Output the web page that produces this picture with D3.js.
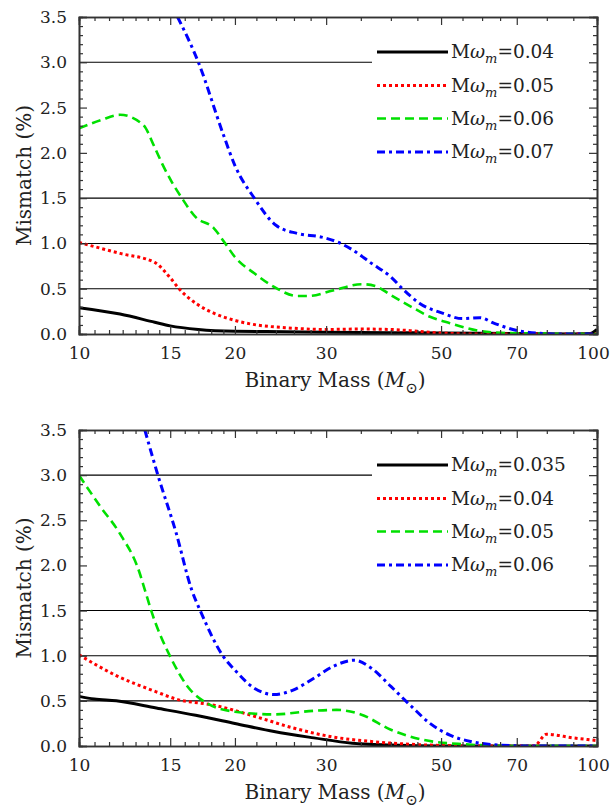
<!DOCTYPE html>
<html><head><meta charset="utf-8">
<script src="https://cdn.jsdelivr.net/npm/d3@7"></script>
<style>body{margin:0;background:#fff}svg{display:block}
.f{font-family:'DejaVu Serif', serif}
</style>
</head><body>
<script>
// ---------- DATA ----------
const xTickValues = [10, 15, 20, 30, 50, 70, 100];
const xMinorTicks = [10.714, 11.429, 12.143, 12.857, 13.571, 14.286, 16, 17, 18, 19, 22, 24, 26, 28, 35, 40, 45, 55, 60, 65, 80, 90];
const yTickValues = [0, 0.5, 1, 1.5, 2, 2.5, 3, 3.5];
const gridFull = [0.5, 1.0, 1.5];
const gridPartial = [3.0];

const topLabels = ["0.04", "0.05", "0.06", "0.07"];
const bottomLabels = ["0.035", "0.04", "0.05", "0.06"];

// top panel series
const top1X = [10, 12, 14, 15, 17, 20, 25, 30, 40, 50, 70, 90, 97, 100];
const top1Y = [0.29, 0.22, 0.13, 0.09, 0.05, 0.03, 0.025, 0.02, 0.015, 0.01, 0.005, 0.0, 0.005, 0.05];
const top2X = [10, 12, 14, 15, 15.6, 17, 18.2, 20, 22, 25, 30, 35, 40, 45, 50, 60, 100];
const top2Y = [1.01, 0.89, 0.79, 0.62, 0.5, 0.32, 0.23, 0.15, 0.1, 0.07, 0.05, 0.055, 0.05, 0.03, 0.01, 0.0, 0.0];
const top3X = [10, 11, 12, 13.3, 14, 14.5, 15.1, 15.8, 16.8, 18.2, 19.1, 20, 21.8, 23.8, 26.4, 27.8, 30.9, 35.2, 37.3, 40, 43.8, 47.6, 52, 60, 67.6, 100];
const top3Y = [2.27, 2.36, 2.42, 2.31, 2.06, 1.87, 1.68, 1.5, 1.29, 1.17, 1.01, 0.85, 0.67, 0.52, 0.42, 0.42, 0.48, 0.55, 0.53, 0.43, 0.30, 0.19, 0.12, 0.03, 0.01, 0.0];
const top4X = [15.5, 17, 19, 20, 21.8, 24, 26.4, 29.4, 31.4, 33.7, 36.7, 40, 42.3, 45.4, 50.3, 55, 59.4, 63.2, 68.8, 76.6, 85, 100];
const top4Y = [3.5, 3.0, 2.2, 1.86, 1.50, 1.2, 1.11, 1.07, 1.02, 0.93, 0.78, 0.63, 0.49, 0.34, 0.23, 0.17, 0.18, 0.12, 0.05, 0.01, 0.0, 0.0];

// bottom panel series
const bot1X = [10, 10.7, 11.8, 14.1, 16.8, 20, 23.8, 28.4, 33.7, 40, 50, 100];
const bot1Y = [0.55, 0.52, 0.50, 0.42, 0.34, 0.25, 0.16, 0.09, 0.03, 0.01, 0.0, 0.0];
const bot2X = [10, 11.8, 14.1, 15.4, 18.3, 21.8, 25.9, 30.9, 36.7, 47.6, 60, 75.6, 79.9, 90, 100];
const bot2Y = [1.01, 0.78, 0.6, 0.52, 0.45, 0.33, 0.2, 0.1, 0.05, 0.01, 0.0, 0.0, 0.13, 0.09, 0.06];
const bot3X = [10, 11, 11.97, 13.07, 13.4, 13.8, 15.0, 16.2, 17.7, 20, 23.8, 28.4, 31.4, 35, 40, 46, 55, 70, 100];
const bot3Y = [3.0, 2.65, 2.36, 1.93, 1.73, 1.49, 0.99, 0.66, 0.47, 0.38, 0.35, 0.39, 0.40, 0.35, 0.18, 0.07, 0.02, 0.0, 0.0];
const bot4X = [13.4, 14.2, 15.4, 16.5, 17.2, 19.0, 20, 21.8, 23.8, 25.9, 28.4, 30.9, 34, 36.7, 40, 43.8, 47.6, 52, 57, 65, 75, 100];
const bot4Y = [3.5, 3.0, 2.36, 1.73, 1.48, 0.99, 0.84, 0.64, 0.57, 0.62, 0.75, 0.88, 0.95, 0.86, 0.66, 0.44, 0.25, 0.12, 0.05, 0.01, 0.0, 0.0];

// ---------- STYLE ----------
const styles = [
  {color: "#000", width: 3, dash: null},
  {color: "#ff0000", width: 3, dash: "3,3"},
  {color: "#00e000", width: 2.6, dash: "9,5"},
  {color: "#0000ff", width: 3, dash: "8,4,3,4"}
];

const W = 610, H = 811;
const svg = d3.select("body").append("svg").attr("width", W).attr("height", H);

function panel(idx, top, bottom, series, labels) {
  const left = 79, right = 597;
  const x = d3.scaleLog().domain([10, 100]).range([left, right]);
  const y = d3.scaleLinear().domain([0, 3.5]).range([bottom, top]);
  const g = svg.append("g");
  const clipId = "clip" + idx;
  g.append("clipPath").attr("id", clipId).append("rect")
    .attr("x", left).attr("y", top).attr("width", right - left).attr("height", bottom - top);

  g.selectAll(".gf").data(gridFull).enter().append("line")
    .attr("x1", left).attr("x2", right).attr("y1", d => y(d)).attr("y2", d => y(d))
    .attr("stroke", "#000").attr("stroke-width", 1.1);
  g.selectAll(".gp").data(gridPartial).enter().append("line")
    .attr("x1", left).attr("x2", 372).attr("y1", d => y(d)).attr("y2", d => y(d))
    .attr("stroke", "#000").attr("stroke-width", 1.1);

  const line = d3.line().x(d => x(d[0])).y(d => y(d[1])).curve(d3.curveMonotoneX);
  const cg = g.append("g").attr("clip-path", `url(#${clipId})`);
  series.forEach((s, i) => {
    const pts = s[0].map((v, k) => [v, s[1][k]]);
    cg.append("path").attr("d", line(pts)).attr("fill", "none")
      .attr("stroke", styles[i].color).attr("stroke-width", styles[i].width)
      .attr("stroke-dasharray", styles[i].dash);
  });

  const tickCol = "#333";
  const axB = d3.axisBottom(x).tickValues(xTickValues).tickSize(-8).tickFormat(d3.format("d")).tickPadding(13);
  g.append("g").attr("transform", `translate(0,${bottom})`).call(axB)
    .selectAll(".tick text").filter(d => d === 100).attr("dx", -4);
  g.append("g").attr("transform", `translate(0,${bottom})`).call(d3.axisBottom(x).tickValues(xMinorTicks).tickSize(-4).tickFormat(""));
  g.append("g").attr("transform", `translate(0,${top})`).call(d3.axisTop(x).tickValues(xTickValues).tickSize(-8).tickFormat(""));
  g.append("g").attr("transform", `translate(0,${top})`).call(d3.axisTop(x).tickValues(xMinorTicks).tickSize(-4).tickFormat(""));

  const yMinor = d3.range(0, 35).map(k => k / 10).filter(v => Math.abs(v * 2 - Math.round(v * 2)) > 1e-6);
  g.append("g").attr("transform", `translate(${left},0)`).call(d3.axisLeft(y).tickValues(yTickValues).tickSize(-8).tickFormat(d3.format(".1f")).tickPadding(12));
  g.append("g").attr("transform", `translate(${left},0)`).call(d3.axisLeft(y).tickValues(yMinor).tickSize(-4).tickFormat(""));
  g.append("g").attr("transform", `translate(${right},0)`).call(d3.axisRight(y).tickValues(yTickValues).tickSize(-8).tickFormat(""));
  g.append("g").attr("transform", `translate(${right},0)`).call(d3.axisRight(y).tickValues(yMinor).tickSize(-4).tickFormat(""));

  g.selectAll("g").attr("font-family", null);
  g.selectAll(".domain").attr("stroke", tickCol).attr("stroke-width", 1.6);
  g.selectAll(".tick line").attr("stroke", tickCol).attr("stroke-width", 1.2);
  g.selectAll(".tick text").attr("class", "f").attr("font-size", 17).attr("fill", "#222");

  g.append("text").attr("class", "f").attr("transform", `translate(24,${(top + bottom) / 2}) rotate(-90)`)
    .attr("text-anchor", "middle").attr("dominant-baseline", "central").attr("font-size", 20).attr("fill", "#222")
    .text("Mismatch (%)");
  const xt = g.append("text").attr("class", "f").attr("x", (left + right) / 2 - 3).attr("y", bottom + 53)
    .attr("text-anchor", "middle").attr("font-size", 20).attr("fill", "#222");
  xt.append("tspan").text("Binary Mass (");
  xt.append("tspan").attr("font-style", "italic").text("M");
  xt.append("tspan").attr("dy", 6).attr("font-size", 15).text("⊙");
  xt.append("tspan").attr("dy", -6).text(")");

  const rowOff = [35, 68.5, 101.5, 135];
  labels.forEach((lab, i) => {
    const ry = top + rowOff[i];
    g.append("line").attr("x1", 377).attr("x2", 448).attr("y1", ry).attr("y2", ry)
      .attr("stroke", styles[i].color).attr("stroke-width", styles[i].width)
      .attr("stroke-dasharray", styles[i].dash);
    const t = g.append("text").attr("class", "f").attr("x", 451).attr("y", ry + 6).attr("font-size", 18.5).attr("fill", "#222");
    t.append("tspan").text("M");
    t.append("tspan").attr("font-style", "italic").text("ω");
    t.append("tspan").attr("font-style", "italic").attr("font-size", 13).attr("dy", 5).text("m");
    t.append("tspan").attr("dy", -5).text("=" + lab);
  });
}

panel(0, 17, 334, [[top1X, top1Y], [top2X, top2Y], [top3X, top3Y], [top4X, top4Y]], topLabels);
panel(1, 430, 746, [[bot1X, bot1Y], [bot2X, bot2Y], [bot3X, bot3Y], [bot4X, bot4Y]], bottomLabels);
</script>
</body></html>
